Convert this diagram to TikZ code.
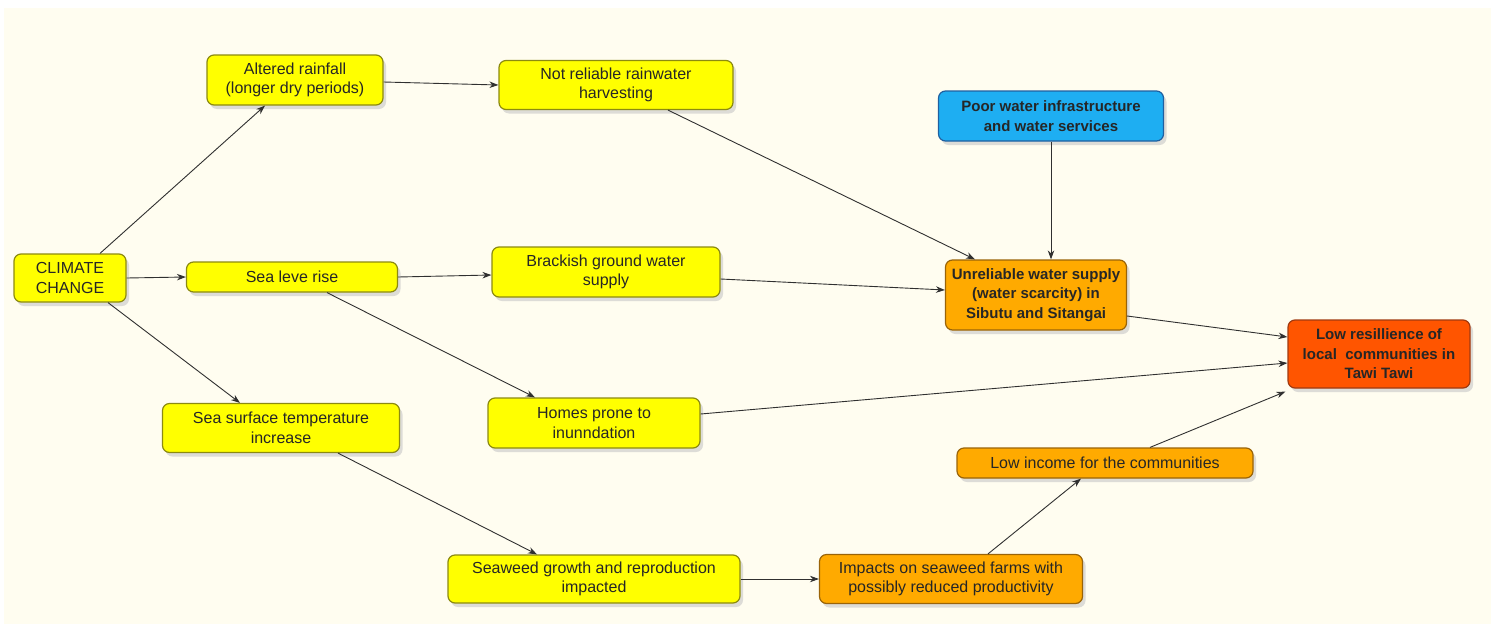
\documentclass[tikz,border=0pt]{standalone}
\usepackage{fontspec}
\setmainfont{Liberation Sans}
\usetikzlibrary{shadows,arrows.meta}
\definecolor{bgcream}{HTML}{FFFDF0}
\definecolor{yel}{HTML}{FFFF00}
\definecolor{yelb}{HTML}{8C8A10}
\definecolor{ora}{HTML}{FFAA00}
\definecolor{orab}{HTML}{9A6408}
\definecolor{redo}{HTML}{FF5500}
\definecolor{redb}{HTML}{A03A10}
\definecolor{blu}{HTML}{1EAEF2}
\definecolor{blub}{HTML}{2060A0}
\definecolor{edgec}{HTML}{303030}
\tikzset{
  box/.style={rectangle, rounded corners=7pt, line width=1.2pt, align=center,
    inner sep=0pt, font=\fontsize{16}{19.5}\selectfont,
    drop shadow={shadow xshift=3pt, shadow yshift=-4pt, fill=black!22, opacity=0.6}},
  ybox/.style={box, fill=yel, draw=yelb, text=black!85},
  obox/.style={box, fill=ora, draw=orab, text=black!85},
  rbox/.style={box, fill=redo, draw=redb, text=black!85},
  bbox/.style={box, fill=blu, draw=blub, text=black!85},
  boldtxt/.style={font=\fontsize{15}{19.5}\selectfont\bfseries},
  arr/.style={draw=edgec, line width=0.9pt, -{Stealth[length=9pt,width=6.5pt]}},
}
\begin{document}
\begin{tikzpicture}[x=1pt,y=-1pt]
\useasboundingbox (0,0) rectangle (1491,624);
\fill[white] (0,0) rectangle (1491,624);
\fill[bgcream] (4,8) rectangle (1491,624);

\node[ybox, minimum width=112pt, minimum height=48pt] (cc) at (70,278) {CLIMATE\\CHANGE};
\node[ybox, minimum width=176pt, minimum height=50pt] (ar) at (295,80) {Altered rainfall\\(longer dry periods)};
\node[ybox, minimum width=234pt, minimum height=49pt] (nr) at (616,85) {Not reliable rainwater\\harvesting};
\node[ybox, minimum width=211pt, minimum height=30pt] (sl) at (292,277) {Sea leve rise};
\node[ybox, minimum width=228pt, minimum height=50pt] (bg) at (606,272) {Brackish ground water\\supply};
\node[bbox, boldtxt, minimum width=225pt, minimum height=50pt] (pw) at (1051,116) {Poor water infrastructure\\and water services};
\node[obox, boldtxt, minimum width=181pt, minimum height=70pt] (uw) at (1036,295) {Unreliable water supply\\(water scarcity) in\\Sibutu and Sitangai};
\node[rbox, boldtxt, minimum width=182pt, minimum height=68pt] (lr) at (1379,354) {Low resillience of\\local\ \ communities in\\Tawi Tawi};
\node[ybox, minimum width=237pt, minimum height=49pt] (sst) at (281,428) {Sea surface temperature\\increase};
\node[ybox, minimum width=212pt, minimum height=50pt] (hp) at (594,423) {Homes prone to\\inunndation};
\node[obox, minimum width=296pt, minimum height=30pt] (li) at (1105,463) {Low income for the communities};
\node[ybox, minimum width=292pt, minimum height=48pt] (sg) at (594,579) {Seaweed growth and reproduction\\impacted};
\node[obox, minimum width=263pt, minimum height=49pt] (im) at (951,579) {Impacts on seaweed farms with\\possibly reduced productivity};

\draw[arr] ([xshift=30pt]cc.north) -- ([xshift=-30pt]ar.south);
\draw[arr] (cc.east) -- (sl.west);
\draw[arr] ([xshift=38pt]cc.south) -- ([xshift=-41pt]sst.north);
\draw[arr] ([yshift=-2pt]ar.east) -- (nr.west);
\draw[arr] ([xshift=52pt]nr.south) -- ([xshift=-61pt]uw.north);
\draw[arr] (sl.east) -- ([yshift=-3pt]bg.west);
\draw[arr] ([xshift=35pt]sl.south) -- ([xshift=-59pt]hp.north);
\draw[arr] ([yshift=-7pt]bg.east) -- ([yshift=5pt]uw.west);
\draw[arr] (pw.south) -- (pw.south |- uw.north);
\draw[arr] ([yshift=-21pt]uw.east) -- ([yshift=17pt]lr.west);
\draw[arr] ([yshift=9pt]hp.east) -- ([yshift=-9pt]lr.west);
\draw[arr] ([xshift=57pt]sst.south) -- ([xshift=-57pt]sg.north);
\draw[arr] (sg.east) -- (im.west);
\draw[arr] ([xshift=37pt]im.north) -- ([xshift=-24pt]li.south);
\draw[arr] ([xshift=45pt]li.north) -- ([xshift=-2pt,yshift=-3pt]lr.south west);
\end{tikzpicture}
\end{document}
